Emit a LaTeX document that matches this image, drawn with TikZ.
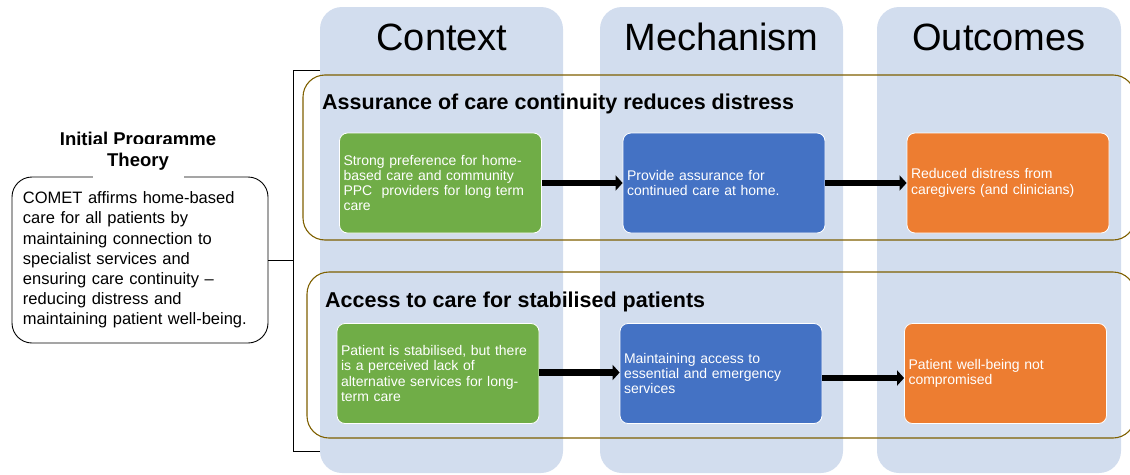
\documentclass[tikz,border=0pt]{standalone}
\usepackage{fontspec}
\setmainfont{Liberation Sans}
\usepackage{xcolor}
\usetikzlibrary{arrows.meta, calc, positioning}
\definecolor{colfill}{RGB}{210,221,238}
\definecolor{grpline}{RGB}{127,96,0}
\definecolor{ctxgreen}{RGB}{112,173,71}
\definecolor{mechblue}{RGB}{68,114,196}
\definecolor{outorange}{RGB}{237,125,49}

\begin{document}
\begin{tikzpicture}[x=1pt, y=-1pt,
        colbox/.style={fill=colfill, rounded corners=22pt},
        colhead/.style={anchor=base, font=\fontsize{38}{40}\selectfont},
        grpbox/.style={draw=grpline, line width=1.1pt, rounded corners=22pt},
        grptitle/.style={anchor=base west, inner sep=0pt, font=\bfseries\fontsize{21.5}{24}\selectfont},
        cmobox/.style={draw=white, line width=0.8pt, rounded corners=8pt, text=white,
            minimum width=202pt, minimum height=100pt, text width=194pt, inner xsep=4pt,
            align=left, font=\fontsize{14}{15.3}\selectfont},
        ctxbox/.style={cmobox, fill=ctxgreen},
        mechbox/.style={cmobox, fill=mechblue},
        outbox/.style={cmobox, fill=outorange},
        flowarrow/.style={line width=6.5pt, -{Triangle[length=7pt,width=15pt]}}]
                        \useasboundingbox (0,0) rectangle (1130,474);
                        \clip (0,0) rectangle (1130,474);

                        % columns
                        \fill[colbox] (320,7) rectangle (563,473);
                        \fill[colbox] (600,7) rectangle (843,473);
                        \fill[colbox] (877,7) rectangle (1121,473);
                        \node[colhead] (ctxhead) at (442,50) {Context};
                        \node[colhead] (mechhead) at (721.5,50) {Mechanism};
                        \node[colhead] (outhead) at (999,50) {Outcomes};

                        % bracket
                        \coordinate (brtop) at (320,70);
                        \coordinate (brbot) at (320,451);
                        \coordinate (brmid) at (293,260);
                        \draw[line width=0.9pt] (brtop) -- (brmid |- brtop) -- (brmid |- brbot) -- (brbot);

                        % initial programme theory
                        \node[anchor=base, font=\bfseries\fontsize{18.5}{20}\selectfont] (iptline) at (138,145) {Initial Programme};
                        \node[draw, line width=0.9pt, rounded corners=20pt, minimum width=256pt, minimum height=166pt,
                            text width=234pt, inner xsep=11pt, align=left, font=\fontsize{16.5}{20.2}\selectfont]
                            (ipt) at (140,260) {COMET affirms home-based\\care for all patients by\\maintaining connection to\\specialist services and\\ensuring care continuity --\\reducing distress and\\maintaining patient well-being.};
                        \node[fill=white, minimum width=91pt, minimum height=35pt, inner sep=0pt,
                            font=\bfseries\fontsize{18.5}{20}\selectfont] (ipttitle) at (138,161.5) {Theory};
                        \draw[line width=0.9pt] (ipt.east) -- (brmid);

                        % groups
                        \draw[grpbox] (303,75) rectangle (1135,240);
                        \draw[grpbox] (307,272) rectangle (1135,438);
                        \node[grptitle] (grp1) at (322,109) {Assurance of care continuity reduces distress};
                        \node[grptitle] (grp2) at (325,307) {Access to care for stabilised patients};

                        % row 1
                        \node[ctxbox] (ctx1) at (440.5,183) {Strong preference for home-\\based care and community\\PPC\ \ providers for long term\\care};
                        \node[mechbox] (mech1) at (724,183) {Provide assurance for\\continued care at home.};
                        \node[outbox] (out1) at (1008,183) {Reduced distress from\\caregivers (and clinicians)};

                        % row 2
                        \node[ctxbox] (ctx2) at (438,373.5) {Patient is stabilised, but there\\is a perceived lack of\\alternative services for long-\\term care};
                        \node[mechbox] (mech2) at (721,373.5) {Maintaining access to\\essential and emergency\\services};
                        \node[outbox] (out2) at (1005.5,373.5) {Patient well-being not\\compromised};

                        \draw[flowarrow] (ctx1) -- (mech1);
                        \draw[flowarrow] (mech1) -- (out1);
                        \draw[flowarrow] ([yshift=1pt]ctx2.east) -- ([yshift=1pt]mech2.west);
                        \draw[flowarrow] ([yshift=-4.5pt]mech2.east) -- ([yshift=-4.5pt]out2.west);
\end{tikzpicture}
\end{document}
